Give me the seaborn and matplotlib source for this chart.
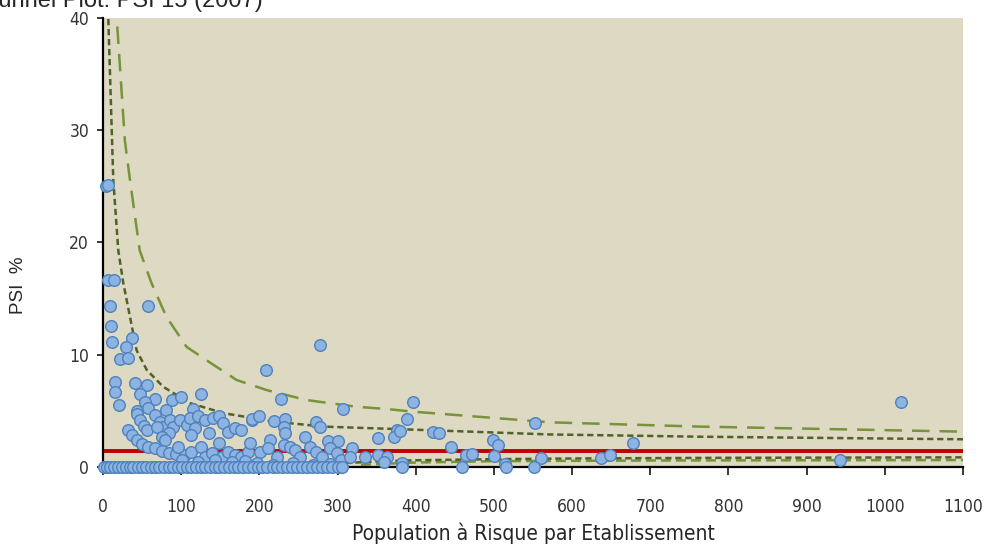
import matplotlib
matplotlib.use("Agg")
import matplotlib.pyplot as plt
import seaborn as sns
import numpy as np
import pandas as pd

# --- data ---
# establishments with PSI = 0 (bottom row)
zero_x = [1, 5, 9, 14, 19, 24, 29, 34, 39, 45, 50, 55, 61, 66, 72, 78, 84, 90, 96, 101,
          107, 113, 119, 125, 131, 137, 143, 149, 155, 161, 167, 173, 179, 186, 192, 198,
          204, 210, 217, 223, 229, 236, 242, 248, 255, 261, 267, 274, 280, 287, 293, 300,
          306, 383, 459, 516, 551]

pts_x = [4, 6, 7, 14, 9, 10, 11, 58, 37, 30, 22, 32, 15, 16, 20, 41, 56, 47, 66, 54, 58,
         88, 100, 125, 81, 115, 43, 44, 47, 52, 56, 66, 73, 77, 69, 86, 90, 84, 75, 79,
         98, 107, 111, 118, 113, 122, 130, 141, 148, 135, 154, 160, 169, 177, 190,
         32, 37, 43, 50, 58, 67, 75, 84, 94, 105,
         96, 113, 126, 130, 139, 148, 152, 160, 169, 177, 186,
         101, 122, 143, 165, 182,
         191, 200, 219, 233, 231, 233, 214, 258, 273, 278, 288, 300, 318, 352, 376, 372,
         209, 228, 278, 307,
         188, 201, 211, 222, 231, 239, 246, 252, 265, 273, 280, 290, 299, 305, 316, 335,
         352, 363, 359, 382,
         197, 218, 243, 269, 290,
         396, 389, 380, 422, 430, 445, 464, 472, 499, 505, 500, 514, 552, 560, 637, 649,
         678, 1021, 943]
pts_y = [25.0, 25.1, 16.7, 16.7, 14.3, 12.6, 11.1, 14.35, 11.5, 10.7, 9.6, 9.7, 7.6, 6.7,
         5.5, 7.5, 7.3, 6.5, 6.1, 5.8, 5.3, 6.0, 6.2, 6.5, 5.1, 5.2, 5.0, 4.7, 4.2, 3.65,
         3.3, 4.6, 4.0, 3.6, 3.6, 4.2, 3.6, 3.0, 2.7, 2.4, 4.2, 3.75, 4.35, 3.45, 2.85,
         4.5, 4.2, 4.35, 4.5, 3.0, 3.9, 3.15, 3.45, 3.3, 4.2,
         3.3, 2.85, 2.4, 2.05, 1.8, 1.66, 1.45, 1.27, 1.16, 1.07,
         1.8, 1.36, 1.8, 0.92, 1.22, 2.1, 0.92, 1.36, 1.07, 0.92, 1.36,
         0.62, 0.47, 0.62, 0.47, 0.56,
         4.25, 4.5, 4.1, 4.3, 3.55, 3.0, 2.4, 2.7, 4.05, 3.6, 2.35, 2.35, 1.66, 2.55, 3.3,
         2.7,
         8.65, 6.1, 10.9, 5.2,
         2.1, 1.36, 1.66, 0.92, 1.96, 1.8, 1.5, 0.92, 1.8, 1.36, 0.92, 1.66, 1.22, 0.62,
         0.92, 0.92, 1.07, 0.92, 0.47, 0.33,
         0.33, 0.18, 0.33, 0.18, 0.27,
         5.8, 4.3, 3.2, 3.1, 3.0, 1.75, 1.07, 1.2, 2.4, 1.96, 0.98, 0.3, 3.95, 0.83, 0.83,
         1.07, 2.1, 5.8, 0.62]

mean_psi = 1.45

# control limits (3 SD long dash, 2 SD short dash)
ucl3_x = [15, 17.5, 28, 34.5, 47, 62, 81, 107, 137, 171, 209, 260, 324, 367, 393, 572, 763, 1100]
ucl3_y = [44, 40.1, 29.1, 25.6, 19.3, 16.4, 13.4, 10.7, 9.3, 7.75, 6.86, 5.97, 5.37, 5.14,
          4.95, 3.98, 3.6, 3.15]
ucl2_x = [5.5, 6.8, 13.2, 19.6, 26, 34.5, 43, 56, 77, 111, 154, 218, 282, 367, 572, 763, 1100]
ucl2_y = [45, 40, 25.6, 19.3, 16.4, 13.4, 10.4, 8.65, 7.15, 5.7, 4.8, 4.05, 3.6, 3.4, 2.9,
          2.7, 2.47]
lcl2_x = [310, 350, 400, 500, 600, 800, 1100]
lcl2_y = [0.35, 0.5, 0.6, 0.7, 0.76, 0.82, 0.86]
lcl3_x = [330, 400, 500, 700, 1100]
lcl3_y = [0.2, 0.4, 0.52, 0.58, 0.62]

xticks = list(range(0, 1101, 100))
yticks = [0, 10, 20, 30, 40]

# --- plot ---
sns.set_style("ticks", {"axes.facecolor": "#DDD9C3"})
plt.rcParams["font.family"] = ["DejaVu Sans"]
plt.rcParams["font.stretch"] = "condensed"

fig = plt.figure(figsize=(9.89, 5.53), dpi=100)
ax = fig.add_axes([0.1041, 0.1555, 0.8696, 0.812])

ax.axhline(mean_psi, color="#C00000", lw=2.8, zorder=2)
sns.lineplot(x=ucl3_x, y=ucl3_y, ax=ax, color="#77933C", lw=1.8, sort=False, zorder=2)
ax.lines[-1].set_dashes((7, 4))
sns.lineplot(x=ucl2_x, y=ucl2_y, ax=ax, color="#4F6228", lw=1.8, sort=False, zorder=2)
ax.lines[-1].set_dashes((2.5, 1.5))
sns.lineplot(x=lcl3_x, y=lcl3_y, ax=ax, color="#77933C", lw=1.8, sort=False, zorder=2)
ax.lines[-1].set_dashes((4, 2))
sns.lineplot(x=lcl2_x, y=lcl2_y, ax=ax, color="#4F6228", lw=1.8, sort=False, zorder=2)
ax.lines[-1].set_dashes((2.5, 1.5))

df = pd.DataFrame({"x": pts_x + zero_x, "y": pts_y + [0] * len(zero_x)})
sns.scatterplot(data=df, x="x", y="y", ax=ax, s=70, color="#8DB3E2",
                edgecolor="#4F81BD", linewidth=1, zorder=3, clip_on=False)

ax.set_xlim(0, 1100)
ax.set_ylim(0, 40)
ax.set_xticks(xticks)
ax.set_yticks(yticks)
ax.tick_params(axis="x", direction="out", length=6, width=1.3, pad=16,
               labelsize=12.5, labelcolor="#333333")
ax.tick_params(axis="y", direction="out", length=4, width=1.3, pad=6,
               labelsize=12.5, labelcolor="#333333")
for s in ["top", "right"]:
    ax.spines[s].set_visible(False)
for s in ["left", "bottom"]:
    ax.spines[s].set_linewidth(1.6)
    ax.spines[s].set_color("black")

ax.set_xlabel("Population à Risque par Etablissement", fontsize=15, labelpad=5)
ax.set_ylabel("PSI  %", fontsize=13.5, family=["Liberation Sans", "DejaVu Sans"],
              fontstretch="normal")
ax.yaxis.set_label_coords(-0.088, 0.405)

fig.text(-0.016, 0.987, "Funnel Plot: PSI 15 (2007)", fontsize=17, va="baseline",
         family=["Liberation Sans", "DejaVu Sans"], fontstretch="normal")

fig.savefig("out.png", dpi=100)
